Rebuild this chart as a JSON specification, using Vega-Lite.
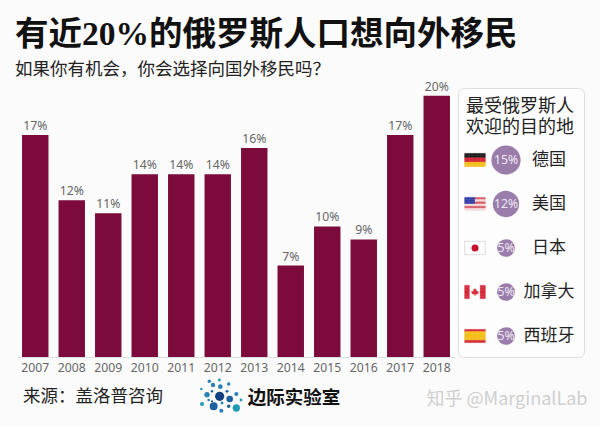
{
"$schema":"https://vega.github.io/schema/vega-lite/v6.json",
"background":"#fbfbfb",
"padding":{"left":15,"top":17,"right":0,"bottom":0},
"config":{"view":{"stroke":null},"font":"Noto Sans"},
"title":{"text":"有近20%的俄罗斯人口想向外移民","subtitle":"如果你有机会\uff0c你会选择向国外移民吗\uff1f","anchor":"start","frame":"group","dx":-2,"offset":1,"font":"Liberation Serif, Noto Sans CJK SC","fontSize":33.5,"fontWeight":"bold","color":"#111","subtitleFont":"Noto Sans CJK SC","subtitleFontSize":17.5,"subtitleColor":"#222","subtitlePadding":9},
"spacing":0,
"vconcat":[
{"spacing":2,"hconcat":[
{"width":438,"height":269,
"data":{"values":[{"year":"2007","v":0.17},{"year":"2008","v":0.12},{"year":"2009","v":0.11},{"year":"2010","v":0.14},{"year":"2011","v":0.14},{"year":"2012","v":0.14},{"year":"2013","v":0.16},{"year":"2014","v":0.07},{"year":"2015","v":0.10},{"year":"2016","v":0.09},{"year":"2017","v":0.17},{"year":"2018","v":0.20}]},
"encoding":{"x":{"field":"year","type":"ordinal","scale":{"paddingInner":0.276,"paddingOuter":0.138},"axis":{"title":null,"labelAngle":0,"ticks":false,"domainColor":"#ddd","labelColor":"#666","labelFontSize":12.2,"labelPadding":4,"labelFont":"Noto Sans"}},
"y":{"field":"v","type":"quantitative","scale":{"domain":[0,0.206],"nice":false},"axis":null}},
"layer":[{"mark":{"type":"bar","color":"#7c0a3a"}},
{"mark":{"type":"text","baseline":"bottom","dy":-2,"fontSize":12.2,"color":"#666","font":"Noto Sans"},"encoding":{"text":{"field":"v","type":"quantitative","format":".0%"}}}]},
{"width":126,"height":269,
"view":{"fill":"#fdfdfd","stroke":"#ddd","strokeWidth":1,"cornerRadius":6},
"title":{"text":["最受俄罗斯人","欢迎的目的地"],"anchor":"start","offset":-49,"dx":8,"font":"Noto Sans CJK SC","fontSize":18,"fontWeight":"normal","color":"#222","lineHeight":21},
"encoding":{
"x":{"datum":"pct","type":"nominal","scale":{"type":"band","domain":["flag","pct","name"],"range":[1.5,94.5],"paddingInner":0,"paddingOuter":0},"axis":null},
"y":{"field":"country","type":"nominal","scale":{"type":"band","domain":["德国","美国","日本","加拿大","西班牙"],"range":[50,270],"paddingInner":0,"paddingOuter":0},"axis":null}},
"layer":[
{"data":{"values":[
{"country":"德国","c":1,"r":1,"p":"black"},{"country":"德国","c":2,"r":1,"p":"black"},{"country":"德国","c":3,"r":1,"p":"black"},{"country":"德国","c":4,"r":1,"p":"black"},
{"country":"德国","c":1,"r":2,"p":"black"},{"country":"德国","c":2,"r":2,"p":"black"},{"country":"德国","c":3,"r":2,"p":"black"},{"country":"德国","c":4,"r":2,"p":"black"},
{"country":"德国","c":1,"r":3,"p":"red"},{"country":"德国","c":2,"r":3,"p":"red"},{"country":"德国","c":3,"r":3,"p":"red"},{"country":"德国","c":4,"r":3,"p":"red"},
{"country":"德国","c":1,"r":4,"p":"red"},{"country":"德国","c":2,"r":4,"p":"red"},{"country":"德国","c":3,"r":4,"p":"red"},{"country":"德国","c":4,"r":4,"p":"red"},
{"country":"德国","c":1,"r":5,"p":"gold"},{"country":"德国","c":2,"r":5,"p":"gold"},{"country":"德国","c":3,"r":5,"p":"gold"},{"country":"德国","c":4,"r":5,"p":"gold"},
{"country":"德国","c":1,"r":6,"p":"gold"},{"country":"德国","c":2,"r":6,"p":"gold"},{"country":"德国","c":3,"r":6,"p":"gold"},{"country":"德国","c":4,"r":6,"p":"gold"},
{"country":"美国","c":1,"r":1,"p":"blue"},{"country":"美国","c":2,"r":1,"p":"blue"},{"country":"美国","c":3,"r":1,"p":"rose"},{"country":"美国","c":4,"r":1,"p":"rose"},
{"country":"美国","c":1,"r":2,"p":"blue"},{"country":"美国","c":2,"r":2,"p":"blue"},{"country":"美国","c":3,"r":2,"p":"pale"},{"country":"美国","c":4,"r":2,"p":"pale"},
{"country":"美国","c":1,"r":3,"p":"blue"},{"country":"美国","c":2,"r":3,"p":"blue"},{"country":"美国","c":3,"r":3,"p":"rose"},{"country":"美国","c":4,"r":3,"p":"rose"},
{"country":"美国","c":1,"r":4,"p":"pale"},{"country":"美国","c":2,"r":4,"p":"pale"},{"country":"美国","c":3,"r":4,"p":"pale"},{"country":"美国","c":4,"r":4,"p":"pale"},
{"country":"美国","c":1,"r":5,"p":"rose"},{"country":"美国","c":2,"r":5,"p":"rose"},{"country":"美国","c":3,"r":5,"p":"rose"},{"country":"美国","c":4,"r":5,"p":"rose"},
{"country":"美国","c":1,"r":6,"p":"pale"},{"country":"美国","c":2,"r":6,"p":"pale"},{"country":"美国","c":3,"r":6,"p":"pale"},{"country":"美国","c":4,"r":6,"p":"pale"},
{"country":"日本","c":1,"r":1,"p":"white"},{"country":"日本","c":2,"r":1,"p":"white"},{"country":"日本","c":3,"r":1,"p":"white"},{"country":"日本","c":4,"r":1,"p":"white"},
{"country":"日本","c":1,"r":2,"p":"white"},{"country":"日本","c":2,"r":2,"p":"white"},{"country":"日本","c":3,"r":2,"p":"white"},{"country":"日本","c":4,"r":2,"p":"white"},
{"country":"日本","c":1,"r":3,"p":"white"},{"country":"日本","c":2,"r":3,"p":"white"},{"country":"日本","c":3,"r":3,"p":"white"},{"country":"日本","c":4,"r":3,"p":"white"},
{"country":"日本","c":1,"r":4,"p":"white"},{"country":"日本","c":2,"r":4,"p":"white"},{"country":"日本","c":3,"r":4,"p":"white"},{"country":"日本","c":4,"r":4,"p":"white"},
{"country":"日本","c":1,"r":5,"p":"white"},{"country":"日本","c":2,"r":5,"p":"white"},{"country":"日本","c":3,"r":5,"p":"white"},{"country":"日本","c":4,"r":5,"p":"white"},
{"country":"日本","c":1,"r":6,"p":"white"},{"country":"日本","c":2,"r":6,"p":"white"},{"country":"日本","c":3,"r":6,"p":"white"},{"country":"日本","c":4,"r":6,"p":"white"},
{"country":"加拿大","c":1,"r":1,"p":"red"},{"country":"加拿大","c":2,"r":1,"p":"white"},{"country":"加拿大","c":3,"r":1,"p":"white"},{"country":"加拿大","c":4,"r":1,"p":"red"},
{"country":"加拿大","c":1,"r":2,"p":"red"},{"country":"加拿大","c":2,"r":2,"p":"white"},{"country":"加拿大","c":3,"r":2,"p":"white"},{"country":"加拿大","c":4,"r":2,"p":"red"},
{"country":"加拿大","c":1,"r":3,"p":"red"},{"country":"加拿大","c":2,"r":3,"p":"white"},{"country":"加拿大","c":3,"r":3,"p":"white"},{"country":"加拿大","c":4,"r":3,"p":"red"},
{"country":"加拿大","c":1,"r":4,"p":"red"},{"country":"加拿大","c":2,"r":4,"p":"white"},{"country":"加拿大","c":3,"r":4,"p":"white"},{"country":"加拿大","c":4,"r":4,"p":"red"},
{"country":"加拿大","c":1,"r":5,"p":"red"},{"country":"加拿大","c":2,"r":5,"p":"white"},{"country":"加拿大","c":3,"r":5,"p":"white"},{"country":"加拿大","c":4,"r":5,"p":"red"},
{"country":"加拿大","c":1,"r":6,"p":"red"},{"country":"加拿大","c":2,"r":6,"p":"white"},{"country":"加拿大","c":3,"r":6,"p":"white"},{"country":"加拿大","c":4,"r":6,"p":"red"},
{"country":"西班牙","c":1,"r":1,"p":"red"},{"country":"西班牙","c":2,"r":1,"p":"red"},{"country":"西班牙","c":3,"r":1,"p":"red"},{"country":"西班牙","c":4,"r":1,"p":"red"},
{"country":"西班牙","c":1,"r":2,"p":"gold"},{"country":"西班牙","c":2,"r":2,"p":"gold"},{"country":"西班牙","c":3,"r":2,"p":"gold"},{"country":"西班牙","c":4,"r":2,"p":"gold"},
{"country":"西班牙","c":1,"r":3,"p":"gold"},{"country":"西班牙","c":2,"r":3,"p":"gold"},{"country":"西班牙","c":3,"r":3,"p":"gold"},{"country":"西班牙","c":4,"r":3,"p":"gold"},
{"country":"西班牙","c":1,"r":4,"p":"gold"},{"country":"西班牙","c":2,"r":4,"p":"gold"},{"country":"西班牙","c":3,"r":4,"p":"gold"},{"country":"西班牙","c":4,"r":4,"p":"gold"},
{"country":"西班牙","c":1,"r":5,"p":"gold"},{"country":"西班牙","c":2,"r":5,"p":"gold"},{"country":"西班牙","c":3,"r":5,"p":"gold"},{"country":"西班牙","c":4,"r":5,"p":"gold"},
{"country":"西班牙","c":1,"r":6,"p":"red"},{"country":"西班牙","c":2,"r":6,"p":"red"},{"country":"西班牙","c":3,"r":6,"p":"red"},{"country":"西班牙","c":4,"r":6,"p":"red"}
]},
"mark":{"type":"rect"},
"encoding":{"x":{"datum":"flag","type":"nominal"},
"xOffset":{"field":"c","type":"ordinal","scale":{"type":"band","paddingInner":0,"paddingOuter":1}},
"yOffset":{"field":"r","type":"ordinal","scale":{"type":"band","domain":[-6,-5,-4,-3,-2,-1,0,1,2,3,4,5,6,7,8,9,10,11,12,13],"paddingInner":0,"paddingOuter":0}},
"color":{"field":"p","type":"nominal","legend":null,"scale":{"domain":["black","red","gold","blue","rose","pale","white"],"range":["#1c1c1c","#d52b3a","#f6bf1c","#3340a8","#d8606c","#f6dede","#ffffff"]}},
"stroke":{"field":"p","type":"nominal","legend":null,"scale":{"domain":["black","red","gold","blue","rose","pale","white"],"range":["#1c1c1c","#d52b3a","#f6bf1c","#3340a8","#d8606c","#f6dede","#ffffff"]}},
"strokeWidth":{"value":0.4}}},
{"data":{"values":[{"country":"日本","s":"outline"}]},
"mark":{"type":"point","filled":false,"shape":"M-1,-0.65H1V0.65H-1Z","size":420,"stroke":"#ddd","strokeWidth":1,"opacity":1},
"encoding":{"x":{"datum":"flag","type":"nominal"}}},
{"data":{"values":[{"country":"日本"}]},
"mark":{"type":"circle","size":50,"color":"#c8102e","opacity":1},
"encoding":{"x":{"datum":"flag","type":"nominal"}}},
{"data":{"values":[{"country":"加拿大"}]},
"mark":{"type":"point","filled":true,"shape":"M0,-1L0.25,-0.55L0.5,-0.65L0.4,-0.1L0.9,-0.25L0.8,0.1L1,0.2L0.45,0.6L0.1,0.55V1H-0.1V0.55L-0.45,0.6L-1,0.2L-0.8,0.1L-0.9,-0.25L-0.4,-0.1L-0.5,-0.65L-0.25,-0.55Z","size":64,"color":"#d52b3a","opacity":1},
"encoding":{"x":{"datum":"flag","type":"nominal"}}},
{"data":{"name":"top","values":[{"country":"德国","share":0.15},{"country":"美国","share":0.12},{"country":"日本","share":0.05},{"country":"加拿大","share":0.05},{"country":"西班牙","share":0.05}]},
"mark":{"type":"circle","color":"#9a7dab","opacity":1},
"encoding":{"size":{"field":"share","type":"quantitative","legend":null,"scale":{"domain":[0.05,0.15],"range":[314,855],"zero":false}}}},
{"data":{"name":"top"},
"mark":{"type":"text","color":"#efe8f3","fontSize":12.2,"font":"Noto Sans"},
"encoding":{"text":{"field":"share","type":"quantitative","format":".0%"}}},
{"data":{"name":"top"},
"mark":{"type":"text","color":"#222","fontSize":17,"font":"Noto Sans CJK SC","dx":12},
"encoding":{"x":{"datum":"name","type":"nominal"},"text":{"field":"country","type":"nominal"}}}
]}
]},
{"width":585,"height":52,
"resolve":{"scale":{"x":"independent","y":"independent","color":"independent","size":"independent"}},
"layer":[
{"data":{"values":[{"part":"source","label":"来源\uff1a盖洛普咨询"}]},
"mark":{"type":"text","fontSize":17.5,"font":"Noto Sans CJK SC","color":"#222","dy":-3},
"encoding":{"x":{"field":"part","type":"nominal","scale":{"type":"point","padding":0,"domain":["source","brand","watermark"],"range":[76,490]},"axis":null},"text":{"field":"label"}}},
{"data":{"values":[{"part":"brand","label":"边际实验室"}]},
"mark":{"type":"text","fontSize":18.5,"fontWeight":"bold","font":"Noto Sans CJK SC","color":"#111","dy":-2,"dx":-6},
"encoding":{"x":{"field":"part","type":"nominal","scale":{"type":"point","padding":0,"domain":["source","brand","watermark"],"range":[76,490]},"axis":null},"text":{"field":"label"}}},
{"data":{"values":[{"part":"watermark","label":"知乎 @MarginalLab"}]},
"mark":{"type":"text","fontSize":18,"font":"Noto Sans CJK SC","color":"#cfcfcf"},
"encoding":{"x":{"field":"part","type":"nominal","scale":{"type":"point","padding":0,"domain":["source","brand","watermark"],"range":[76,490]},"axis":null},"text":{"field":"label"}}},
{"data":{"values":[
{"lx":52,"ly":22,"d":10,"t":"mid"},{"lx":82,"ly":18,"d":8,"t":"teal"},{"lx":63,"ly":33,"d":13,"t":"mid"},{"lx":85,"ly":38,"d":14,"t":"mid"},{"lx":110,"ly":30,"d":10,"t":"mid"},{"lx":28,"ly":45,"d":7,"t":"teal"},{"lx":45,"ly":62,"d":16,"t":"mid"},{"lx":60,"ly":52,"d":7,"t":"dark"},{"lx":105,"ly":52,"d":8,"t":"dark"},{"lx":83,"ly":67,"d":28,"t":"navy"},{"lx":113,"ly":75,"d":20,"t":"dark"},{"lx":133,"ly":60,"d":12,"t":"mid"},{"lx":147,"ly":78,"d":8,"t":"teal"},{"lx":30,"ly":90,"d":12,"t":"teal"},{"lx":50,"ly":78,"d":7,"t":"mid"},{"lx":65,"ly":97,"d":24,"t":"dark"},{"lx":90,"ly":87,"d":8,"t":"mid"},{"lx":110,"ly":97,"d":10,"t":"dark"},{"lx":133,"ly":102,"d":22,"t":"teal"},{"lx":88,"ly":110,"d":12,"t":"mid"},{"lx":60,"ly":82,"d":6,"t":"dark"}
]},
"mark":{"type":"circle","opacity":1},
"encoding":{
"x":{"field":"lx","type":"quantitative","axis":null,"scale":{"domain":[0,180],"range":[175,235],"nice":false}},
"y":{"field":"ly","type":"quantitative","axis":null,"scale":{"domain":[0,138],"range":[0,46],"nice":false}},
"size":{"field":"d","type":"quantitative","legend":null,"scale":{"type":"pow","exponent":2,"domain":[6,28],"range":[5,85],"zero":false}},
"color":{"field":"t","type":"nominal","legend":null,"scale":{"domain":["navy","dark","mid","teal"],"range":["#123f80","#1d5f9f","#2a82b8","#1f9ab5"]}}}}
]}
]}
